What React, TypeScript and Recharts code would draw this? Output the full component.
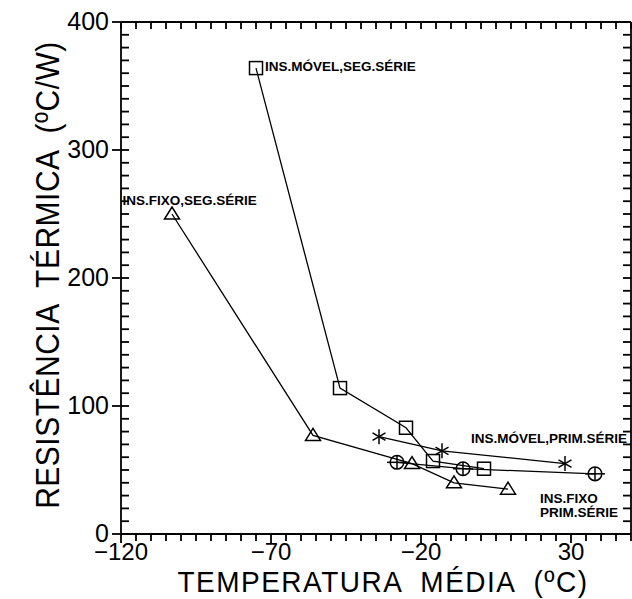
import React from 'react';
import { ScatterChart, Scatter, XAxis, YAxis, ReferenceDot, Label } from 'recharts';

// ---- data (temperature ºC, thermal resistance ºC/W) ----
const movelSegSerie = [
  { x: -75, y: 364 },
  { x: -47, y: 114 },
  { x: -25, y: 83 },
  { x: -16, y: 57 },
  { x: 1, y: 51 },
];
const fixoSegSerie = [
  { x: -103, y: 250 },
  { x: -56, y: 77 },
  { x: -23, y: 55 },
  { x: -9, y: 40 },
  { x: 9, y: 35 },
];
const movelPrimSerie = [
  { x: -34, y: 76 },
  { x: -13, y: 65 },
  { x: 28, y: 55 },
];
const fixoPrimSerie = [
  { x: -28, y: 56 },
  { x: -6, y: 51 },
  { x: 38, y: 47 },
];

const xDomain = [-120, 50];
const yDomain = [0, 400];
const xMajorTicks = [-120, -70, -20, 30];
const yMajorTicks = [0, 100, 200, 300, 400];
const xMinorStep = 5;
const yMinorStep = 10;

const annotations = [
  { x: -72, y: 366, text: 'INS.MÓVEL,SEG.SÉRIE', anchor: 'start' },
  { x: -119.5, y: 261, text: 'INS.FIXO,SEG.SÉRIE', anchor: 'start' },
  { x: 48.7, y: 75, text: 'INS.MÓVEL,PRIM.SÉRIE', anchor: 'end' },
  { x: 19.7, y: 28, text: 'INS.FIXO', anchor: 'start' },
  { x: 19.7, y: 17, text: 'PRIM.SÉRIE', anchor: 'start' },
];

const xTitle = 'TEMPERATURA  MÉDIA  (ºC)';
const yTitle = 'RESISTÊNCIA  TÉRMICA  (ºC/W)';

// ---- layout ----
const W = 632;
const H = 599;
const PLOT_LEFT = 121;
const PLOT_TOP = 22;
const PLOT_W = 510;
const PLOT_H = 512;

const range = (a: number, b: number, s: number) => {
  const out: number[] = [];
  for (let v = a; v <= b + 1e-9; v += s) out.push(Math.round(v * 100) / 100);
  return out;
};
const xTicksAll = range(xDomain[0], xDomain[1], xMinorStep);
const yTicksAll = range(yDomain[0], yDomain[1], yMinorStep);

const INK = '#000';
const tickFont = 'Liberation Sans, Arial, sans-serif';
const annFont = 'Liberation Sans, Arial, sans-serif';
const TW = 1.8;

// axis tick labels (tick marks are drawn as reference marks below)
const BottomLabel = (props: any) => {
  const { x, y, payload } = props;
  const v = payload.value;
  if (!xMajorTicks.includes(v)) return <g />;
  return (
    <text x={x} y={y + 26} textAnchor="middle" fontFamily={tickFont} fontSize={24} fill={INK}>
      {v < 0 ? '\u2212' + Math.abs(v) : v}
    </text>
  );
};
const LeftLabel = (props: any) => {
  const { x, y, payload } = props;
  const v = payload.value;
  if (!yMajorTicks.includes(v)) return <g />;
  return (
    <text x={x - 12} y={y + 8} textAnchor="end" fontFamily={tickFont} fontSize={25} fill={INK}>
      {v}
    </text>
  );
};

const tickMark = (kind: string, major: boolean) => (p: any) => {
  const { cx, cy } = p;
  let d = '';
  if (kind === 'bottom') d = `M${cx},${cy} V${cy + (major ? 9 : 7)}`;
  else if (kind === 'top') d = `M${cx},${cy} V${cy + 7}`;
  else if (kind === 'left') d = `M${major ? cx - 9 : cx},${cy} H${cx + 8}`;
  else d = `M${cx - 8},${cy} H${cx}`;
  return <path d={d} stroke={INK} strokeWidth={TW} fill="none" />;
};

const sw = 1.5;
const SquareMark = (p: any) => (
  <rect x={p.cx - 6.5} y={p.cy - 6.5} width={13} height={13} fill="none" stroke={INK} strokeWidth={sw} />
);
const TriangleMark = (p: any) => (
  <path d={`M${p.cx - 7.5},${p.cy + 5} L${p.cx + 7.5},${p.cy + 5} L${p.cx},${p.cy - 7} Z`} fill="none" stroke={INK} strokeWidth={sw} />
);
const StarMark = (p: any) => {
  const r = 7.5;
  const arms = [90, 30, 150].map((deg) => {
    const a = (deg * Math.PI) / 180;
    return (
      <line key={deg} x1={p.cx - r * Math.cos(a)} y1={p.cy - r * Math.sin(a)} x2={p.cx + r * Math.cos(a)} y2={p.cy + r * Math.sin(a)} stroke={INK} strokeWidth={sw} />
    );
  });
  return <g>{arms}</g>;
};
const CirclePlusMark = (p: any) => (
  <g>
    <circle cx={p.cx} cy={p.cy} r={6.8} fill="none" stroke={INK} strokeWidth={sw} />
    <line x1={p.cx - 10} x2={p.cx + 10} y1={p.cy} y2={p.cy} stroke={INK} strokeWidth={sw} />
    <line x1={p.cx} x2={p.cx} y1={p.cy - 6.8} y2={p.cy + 6.8} stroke={INK} strokeWidth={sw} />
  </g>
);

const lineStyle = { stroke: INK, strokeWidth: 1.3 };
const axisLine = { stroke: INK, strokeWidth: 1.8 };

export default function App() {
  return (
    <div style={{ position: 'absolute', left: 0, top: 0, width: W, height: H, background: '#fff' }}>
      <ScatterChart
        width={W}
        height={H}
        margin={{ top: PLOT_TOP - 1, right: W - PLOT_LEFT - PLOT_W - 1, bottom: H - PLOT_TOP - PLOT_H - 1, left: PLOT_LEFT - 1 }}
      >
        <XAxis
          xAxisId={0}
          dataKey="x"
          type="number"
          domain={xDomain}
          ticks={xTicksAll}
          interval={0}
          allowDataOverflow
          height={1}
          tickLine={false}
          tickSize={0}
          tickMargin={0}
          axisLine={axisLine}
          tick={<BottomLabel />}
        >
          <Label
            content={(lp: any) => {
              const vb = lp.viewBox;
              const cx = vb.x + vb.width / 2 + 7;
              const by = vb.y + 58;
              return (
                <text x={0} y={0} transform={`translate(${cx}, ${by}) scale(1, 1.07)`} textAnchor="middle" fontFamily={tickFont} fontSize={28} letterSpacing={1.5} fill={INK} style={{ whiteSpace: 'pre' }}>
                  {xTitle}
                </text>
              );
            }}
          />
        </XAxis>
        <XAxis xAxisId="top" orientation="top" type="number" domain={xDomain} allowDataOverflow height={1} tickLine={false} tick={false} axisLine={axisLine} />
        <YAxis
          yAxisId={0}
          dataKey="y"
          type="number"
          domain={yDomain}
          ticks={yTicksAll}
          interval={0}
          allowDataOverflow
          width={1}
          tickLine={false}
          tickSize={0}
          tickMargin={0}
          axisLine={axisLine}
          tick={<LeftLabel />}
        >
          <Label
            content={(lp: any) => {
              const vb = lp.viewBox;
              const cx = vb.x - 61;
              const cy = vb.y + vb.height / 2 - 3;
              return (
                <text x={0} y={0} transform={`translate(${cx}, ${cy}) rotate(-90) scale(1, 1.12)`} textAnchor="middle" fontFamily={tickFont} fontSize={30} letterSpacing={0.5} fill={INK} style={{ whiteSpace: 'pre' }}>
                  {yTitle}
                </text>
              );
            }}
          />
        </YAxis>
        <YAxis yAxisId="right" orientation="right" type="number" domain={yDomain} allowDataOverflow width={1} tickLine={false} tick={false} axisLine={axisLine} />

        {/* tick marks placed through the chart's own scales */}
        {xTicksAll.map((v) => (
          <ReferenceDot key={`b${v}`} x={v} y={yDomain[0]} r={0} ifOverflow="visible" shape={tickMark('bottom', xMajorTicks.includes(v))} />
        ))}
        {xTicksAll.map((v) => (
          <ReferenceDot key={`t${v}`} x={v} y={yDomain[1]} r={0} ifOverflow="visible" shape={tickMark('top', false)} />
        ))}
        {yTicksAll.map((v) => (
          <ReferenceDot key={`l${v}`} x={xDomain[0]} y={v} r={0} ifOverflow="visible" shape={tickMark('left', yMajorTicks.includes(v))} />
        ))}
        {yTicksAll.map((v) => (
          <ReferenceDot key={`r${v}`} x={xDomain[1]} y={v} r={0} ifOverflow="visible" shape={tickMark('right', false)} />
        ))}

        <Scatter data={movelSegSerie} line={lineStyle} shape={SquareMark} isAnimationActive={false} />
        <Scatter data={fixoSegSerie} line={lineStyle} shape={TriangleMark} isAnimationActive={false} />
        <Scatter data={movelPrimSerie} line={lineStyle} shape={StarMark} isAnimationActive={false} />
        <Scatter data={fixoPrimSerie} line={lineStyle} shape={CirclePlusMark} isAnimationActive={false} />
        {annotations.map((a) => (
          <ReferenceDot
            key={a.text}
            x={a.x}
            y={a.y}
            r={0}
            ifOverflow="visible"
            shape={(p: any) => (
              <text x={p.cx} y={p.cy + 5} textAnchor={a.anchor as any} fontFamily={annFont} fontWeight="bold" fontSize={13.5} fill={INK}>
                {a.text}
              </text>
            )}
          />
        ))}
      </ScatterChart>
    </div>
  );
}
